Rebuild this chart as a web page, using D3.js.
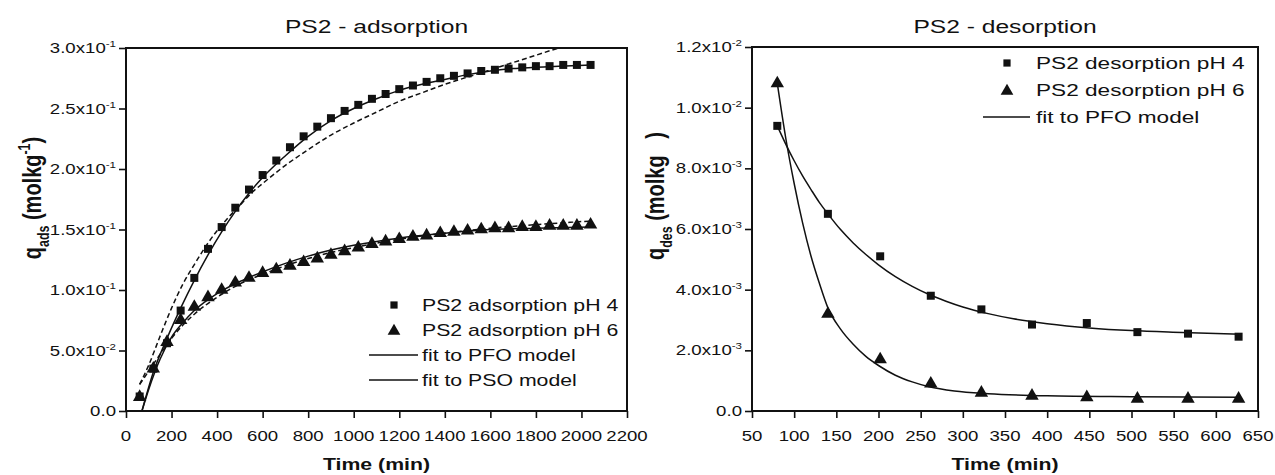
<!DOCTYPE html>
<html><head><meta charset="utf-8">
<script src="https://cdn.jsdelivr.net/npm/d3@7"></script>
<style>
body{margin:0;background:#fff}
svg{display:block}
text{font-family:"Liberation Sans",Arial,sans-serif;fill:#111;white-space:pre}
</style>
</head><body>
<svg id="c" width="1275" height="475"></svg>
<script>
// ---------- Left panel: adsorption ----------
const adsTime = [60,120,180,240,300,360,420,480,540,600,660,720,780,840,900,960,1020,1080,1140,1200,1260,1320,1380,1440,1500,1560,1620,1680,1740,1800,1860,1920,1980,2040];
const adsPH4 = [0.012,0.035,0.056,0.083,0.110,0.134,0.152,0.168,0.183,0.195,0.207,0.218,0.227,0.235,0.242,0.248,0.253,0.258,0.262,0.266,0.269,0.272,0.275,0.277,0.279,0.281,0.282,0.283,0.284,0.285,0.285,0.286,0.286,0.286];
const adsPH6 = [0.0115,0.035,0.057,0.075,0.086,0.094,0.100,0.106,0.110,0.114,0.117,0.120,0.123,0.126,0.129,0.132,0.135,0.138,0.140,0.142,0.144,0.145,0.147,0.148,0.149,0.150,0.151,0.151,0.152,0.152,0.153,0.153,0.153,0.154];

const pfo4T = [70,120,180,240,300,360,420,480,540,600,700,800,900,1000,1100,1200,1300,1400,1500,1600,1700,1800,1900,2040];
const pfo4Q = [0,0.032,0.060,0.085,0.108,0.129,0.148,0.165,0.180,0.193,0.211,0.227,0.240,0.250,0.258,0.265,0.270,0.274,0.278,0.281,0.283,0.284,0.285,0.286];
const pso4T = [60,100,150,200,250,300,350,400,450,500,550,600,700,800,900,1000,1100,1200,1300,1400,1500,1600,1700,1800,1900,2000];
const pso4Q = [0.022,0.038,0.062,0.085,0.105,0.121,0.136,0.149,0.160,0.170,0.180,0.188,0.203,0.216,0.228,0.238,0.247,0.256,0.263,0.270,0.276,0.282,0.288,0.294,0.300,0.305];
const pfo6T = [70,100,150,200,250,300,400,500,600,700,800,900,1000,1100,1200,1400,1600,1800,2040];
const pfo6Q = [0,0.018,0.043,0.061,0.073,0.083,0.097,0.107,0.115,0.122,0.128,0.133,0.137,0.140,0.143,0.147,0.150,0.151,0.152];
const pso6T = [60,100,150,200,250,300,400,500,600,700,800,900,1000,1200,1400,1600,1800,2040];
const pso6Q = [0.022,0.033,0.047,0.060,0.071,0.080,0.094,0.105,0.113,0.120,0.126,0.131,0.135,0.142,0.147,0.151,0.154,0.157];

const xTicksL = [0,200,400,600,800,1000,1200,1400,1600,1800,2000,2200];
const yTicksL = [0,0.05,0.10,0.15,0.20,0.25,0.30];
const yMantL = ["0.0","5.0x10","1.0x10","1.5x10","2.0x10","2.5x10","3.0x10"];
const yExpL  = ["","-2","-1","-1","-1","-1","-1"];
const legendL = ["PS2 adsorption pH 4","PS2 adsorption pH 6","fit to PFO model","fit to PSO model"];

// ---------- Right panel: desorption ----------
const desTime = [80,140,202,262,322,382,447,507,567,627];
const desPH4 = [0.0094,0.0065,0.0051,0.0038,0.00335,0.00285,0.0029,0.0026,0.00255,0.00245];
const desPH6 = [0.0108,0.0032,0.0017,0.0009,0.0006,0.0005,0.00045,0.0004,0.0004,0.0004];
const dfit4T = [80,90,100,110,120,130,140,155,170,185,200,220,240,260,280,300,330,360,400,450,500,560,630];
const dfit4Q = [0.0094,0.0088,0.00825,0.00775,0.0073,0.00687,0.0065,0.00598,0.00554,0.00516,0.00482,0.00443,0.00411,0.00384,0.00362,0.00343,0.00321,0.00304,0.00288,0.00274,0.00265,0.00259,0.00253];
const dfit6T = [80,90,100,110,120,130,140,155,170,185,200,220,240,260,290,330,400,500,630];
const dfit6Q = [0.0108,0.0090,0.0075,0.0062,0.0051,0.0042,0.0034,0.0027,0.0022,0.0018,0.0015,0.00118,0.00096,0.0008,0.00066,0.00057,0.0005,0.00047,0.00045];

const xTicksR = [50,100,150,200,250,300,350,400,450,500,550,600,650];
const yTicksR = [0,0.002,0.004,0.006,0.008,0.010,0.012];
const yMantR = ["0.0","2.0x10","4.0x10","6.0x10","8.0x10","1.0x10","1.2x10"];
const yExpR  = ["","-3","-3","-3","-3","-2","-2"];
const legendR = ["PS2 desorption pH 4","PS2 desorption pH 6","fit to PFO model"];

// ---------- drawing ----------
const SX = 1.33;
const svg = d3.select("#c");

function addParts(t, parts, size){
  let shift = 0;
  parts.forEach(([s,k])=>{
    if(s==="") return;
    const ts = t.append("tspan").text(s);
    const target = k==="sup" ? -size*0.42 : (k==="sub" ? size*0.30 : 0);
    if(target-shift!==0) ts.attr("dy", target-shift);
    shift = target;
    if(k!=="n") ts.attr("font-size", size*0.62);
  });
}
function label(parent,x,y,parts,o={}){
  const size=o.size||14, sx=o.sx||SX;
  const g = parent.append("g").attr("transform",`translate(${x},${y}) scale(${sx},1)${o.rot?` rotate(${o.rot})`:""}`);
  const t = g.append("text").attr("font-size",size).attr("font-weight",o.weight||"normal").attr("text-anchor",o.anchor||"start");
  addParts(t,parts,size);
  return t;
}
const zip = (a,b)=>a.map((v,i)=>[v,b[i]]);

function panel(p){
  const [x0,x1]=p.x.range(), [y1,y0]=p.y.range();
  const g = svg.append("g");
  const gx = g.append("g").attr("transform",`translate(0,${y1})`)
    .call(d3.axisBottom(p.x).tickValues(p.xTicks).tickSize(7).tickSizeOuter(0).tickFormat(""));
  const gy = g.append("g").attr("transform",`translate(${x0},0)`)
    .call(d3.axisLeft(p.y).tickValues(p.yTicks).tickSize(7).tickSizeOuter(0).tickFormat(""));
  [gx,gy].forEach(a=>{a.select(".domain").remove(); a.selectAll("line").attr("stroke","#111").attr("stroke-width",1.6);});
  p.xTicks.forEach(v=>label(g,p.x(v),y1+30,[[String(v),"n"]],{anchor:"middle",size:14}));
  p.yTicks.forEach((v,i)=>label(g,x0-10,p.y(v)+5,[[p.yMant[i],"n"],[p.yExp[i],"sup"]],{anchor:"end",size:14}));
  g.append("rect").attr("x",x0).attr("y",y0).attr("width",x1-x0).attr("height",y1-y0)
    .attr("fill","none").attr("stroke","#111").attr("stroke-width",2);
  const cid = "clip"+p.id;
  svg.append("clipPath").attr("id",cid).append("rect").attr("x",x0).attr("y",y0).attr("width",x1-x0).attr("height",y1-y0);
  const plot = g.append("g").attr("clip-path",`url(#${cid})`);
  const line = d3.line().x(d=>p.x(d[0])).y(d=>p.y(d[1])).curve(d3.curveMonotoneX);
  p.fits.forEach(f=>{
    plot.append("path").attr("d",line(zip(f.t,f.q))).attr("fill","none").attr("stroke","#111")
      .attr("stroke-width",1.5).attr("stroke-dasharray",f.dash||null);
  });
  const sq = d3.symbol().type(d3.symbolSquare).size(64)();
  const tri = d3.symbol().type(d3.symbolTriangle).size(78)();
  g.selectAll(null).data(zip(p.t,p.s4)).join("path").attr("d",sq)
    .attr("transform",d=>`translate(${p.x(d[0])},${p.y(d[1])})`).attr("fill","#111");
  g.selectAll(null).data(zip(p.t,p.s6)).join("path").attr("d",tri)
    .attr("transform",d=>`translate(${p.x(d[0])},${p.y(d[1])})`).attr("fill","#111");
  label(g,(x0+x1)/2,33,[[p.title,"n"]],{anchor:"middle",size:18.5});
  label(g,(x0+x1)/2,470,[["Time (min)","n"]],{anchor:"middle",size:16,weight:"bold"});
  label(g,p.ylabX,p.ylabY,p.ylab,{anchor:"middle",size:20,weight:"bold",rot:-90});
  const lg = g.append("g");
  p.legend.forEach((txt,i)=>{
    const y = p.legY + i*p.legDy;
    if(i===0) lg.append("path").attr("d",d3.symbol().type(d3.symbolSquare).size(52)()).attr("transform",`translate(${p.legM},${y})`).attr("fill","#111");
    else if(i===1) lg.append("path").attr("d",d3.symbol().type(d3.symbolTriangle).size(70)()).attr("transform",`translate(${p.legM},${y+1})`).attr("fill","#111");
    else lg.append("line").attr("x1",p.legL0).attr("x2",p.legL1).attr("y1",y).attr("y2",y).attr("stroke","#111").attr("stroke-width",1.6);
    label(lg,p.legT,y+6,[[txt,"n"]],{size:p.legSize});
  });
}

panel({
  id:"L",
  x:d3.scaleLinear().domain([0,2200]).range([126,627]),
  y:d3.scaleLinear().domain([0,0.3]).range([411,48]),
  xTicks:xTicksL, yTicks:yTicksL, yMant:yMantL, yExp:yExpL,
  t:adsTime, s4:adsPH4, s6:adsPH6,
  fits:[{t:pfo4T,q:pfo4Q},{t:pso4T,q:pso4Q,dash:"5,3"},{t:pfo6T,q:pfo6Q},{t:pso6T,q:pso6Q,dash:"5,3"}],
  title:"PS2 - adsorption",
  ylab:[["q","n"],["ads","sub"],[" (molkg","n"],["-1","sup"],[")","n"]],
  ylabX:41, ylabY:198,
  legend:legendL, legY:305, legDy:25, legM:394, legL0:369, legL1:418, legT:422, legSize:16
});
panel({
  id:"R",
  x:d3.scaleLinear().domain([50,650]).range([752,1258]),
  y:d3.scaleLinear().domain([0,0.012]).range([411,47]),
  xTicks:xTicksR, yTicks:yTicksR, yMant:yMantR, yExp:yExpR,
  t:desTime, s4:desPH4, s6:desPH6,
  fits:[{t:dfit4T,q:dfit4Q},{t:dfit6T,q:dfit6Q}],
  title:"PS2 - desorption",
  ylab:[["q","n"],["des","sub"],[" (molkg   )","n"]],
  ylabX:664, ylabY:196,
  legend:legendR, legY:63, legDy:27, legM:1007, legL0:983, legL1:1030, legT:1036, legSize:17
});
</script>
</body></html>
